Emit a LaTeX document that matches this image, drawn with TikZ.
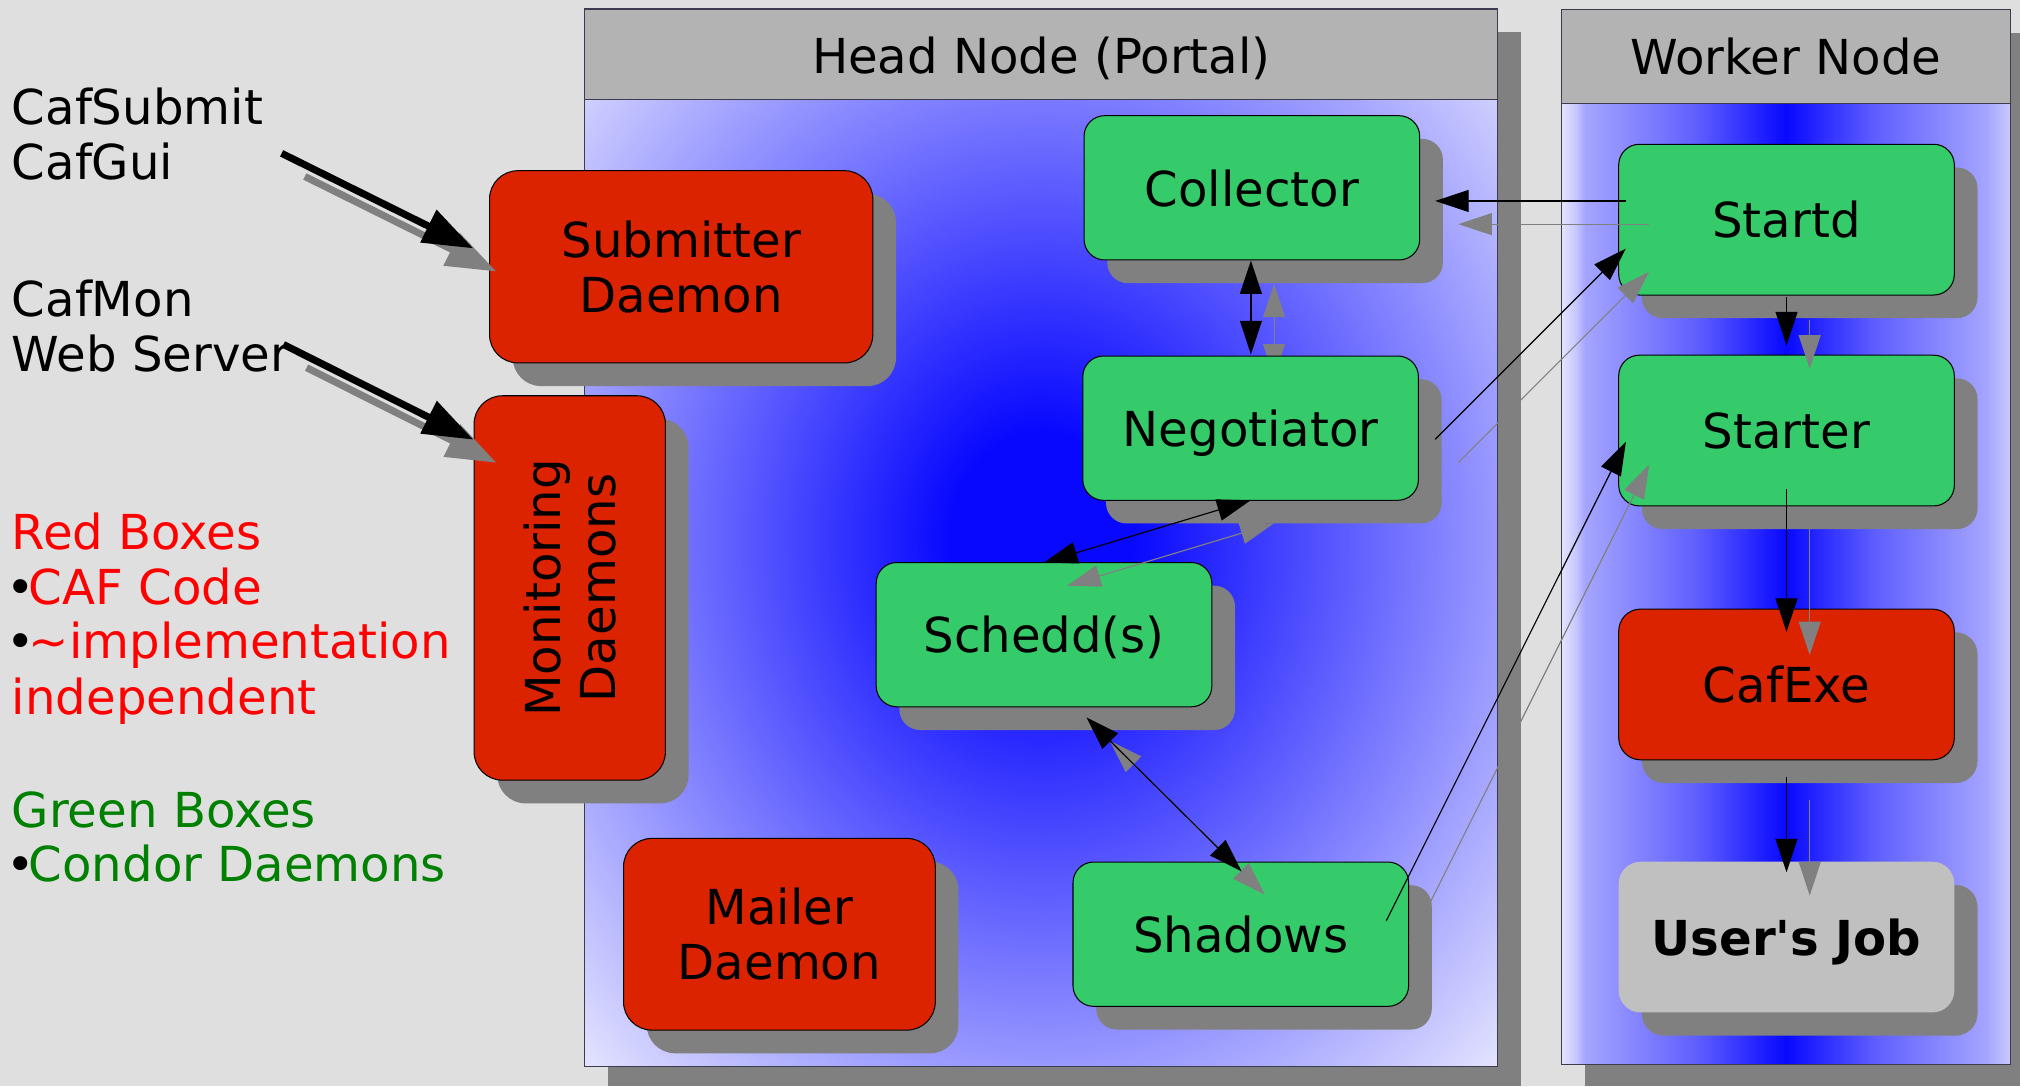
\documentclass[tikz,border=0pt]{standalone}
\usepackage{fontspec}
\setmainfont{DejaVu Sans}[Ligatures=TeXOff]
\usetikzlibrary{arrows.meta,shadows,calc}
\definecolor{bgcol}{RGB}{223,223,223}
\definecolor{hdrgray}{RGB}{179,179,179}
\definecolor{shadowgray}{RGB}{128,128,128}
\definecolor{cafred}{RGB}{220,35,0}
\definecolor{condorgreen}{RGB}{53,203,106}
\definecolor{jobgray}{RGB}{192,192,192}
\definecolor{panelline}{RGB}{60,60,80}
\definecolor{pblue}{RGB}{8,8,255}
\definecolor{ppale}{RGB}{228,228,255}
\definecolor{wedge}{RGB}{200,200,255}
\definecolor{wmid}{RGB}{165,165,255}
\definecolor{wcore}{RGB}{95,95,255}
\definecolor{legendgreen}{RGB}{0,128,0}
\pgfdeclareradialshading{headshade}{\pgfpoint{0bp}{0bp}}{color(0bp)=(pblue); color(5bp)=(pblue); color(35.4bp)=(ppale); color(50bp)=(ppale)}
\pgfdeclarehorizontalshading{workshade}{100bp}{color(0bp)=(ppale); color(25bp)=(ppale); color(26.5bp)=(wedge); color(27.6bp)=(wmid); color(40bp)=(wcore); color(50bp)=(pblue); color(60bp)=(wcore); color(72.4bp)=(wmid); color(75bp)=(wedge); color(100bp)=(wedge)}
\pgfdeclarelayer{bg}
\pgfdeclarelayer{under}
\pgfsetlayers{bg,under,main}
\newcommand{\duoline}[3]{%
  \draw[#1, shadowgray, transform canvas={xshift=18pt,yshift=-18pt}] #2 -- #3;
  \draw[#1] #2 -- #3;}
\begin{document}
\begin{tikzpicture}[x=1pt,y=-1pt,
  font=\fontsize{37.4pt}{42.7pt}\selectfont,
  box/.style={draw=black, line width=0.8pt, rounded corners=#1, inner sep=0pt, outer sep=0pt,
    drop shadow={shadow xshift=18pt, shadow yshift=-18pt, fill=shadowgray, opacity=1}},
  redbox/.style={box=22pt, fill=cafred},
  greenbox/.style={box=16pt, fill=condorgreen, minimum width=260.5pt, minimum height=112pt, text depth=0pt},
  workerbox/.style={minimum width=260.5pt, minimum height=117pt},
  panelbox/.style={draw=panelline, line width=0.9pt, inner sep=0pt, outer sep=0pt},
  panelhead/.style={panelbox, fill=hdrgray},
  legendtext/.style={anchor=base west, inner sep=0pt},
  onehead/.style={line width=0.9pt, -{Triangle[length=26pt,width=17pt]}},
  dualhead/.style={line width=0.9pt, {Triangle[length=26pt,width=17pt]}-{Triangle[length=26pt,width=17pt]}},
  bigarrow/.style={line width=5.5pt, -{Triangle[length=39pt,width=27pt]}}
]
\useasboundingbox (0,0) rectangle (1568,843);

\begin{pgfonlayer}{bg}
\fill[bgcol] (0,0) rectangle (1568,843);
\fill[shadowgray] (472,25) rectangle (1180.5,843);
\fill[shadowgray] (1230.3,25.5) rectangle (1568,843);
\node[panelbox, shade, shading=headshade, minimum width=708.5pt, minimum height=821pt] (headpanel) at (808.25,417.5) {};
\node[panelhead, minimum width=708.5pt, minimum height=70pt] (headhdr) at (808.25,42) {};
\node[anchor=base, inner sep=0pt] (headtitle) at (808.25,57.3) {Head Node (Portal)};
\node[panelbox, shade, shading=workshade, minimum width=348pt, minimum height=818.5pt] (workpanel) at (1386.3,416.75) {};
\node[panelhead, minimum width=348pt, minimum height=73pt] (workhdr) at (1386.3,44) {};
\node[anchor=base, inner sep=0pt] (worktitle) at (1386.3,58.2) {Worker Node};
\end{pgfonlayer}

% legend texts
\node[legendtext] (t1) at (9,96.8) {CafSubmit};
\node[legendtext] (t2) at (9,139) {CafGui};
\node[legendtext] (t3) at (9,245.5) {CafMon};
\node[legendtext] (t4) at (9,288.1) {Web Server};
\node[legendtext, text=red] (t5) at (9,426.8) {Red Boxes};
\node[legendtext] (t6) at (5,469.3) {•\kern-4.9pt\textcolor{red}{CAF Code}};
\node[legendtext] (t7) at (5,511.5) {•\kern-4.9pt\textcolor{red}{\textasciitilde implementation}};
\node[legendtext, text=red] (t8) at (9,555) {independent};
\node[legendtext, text=legendgreen] (t9) at (9,642.4) {Green Boxes};
\node[legendtext] (t10) at (5,684.3) {•\kern-4.9pt\textcolor{legendgreen}{Condor Daemons}};

% boxes
\node[redbox, minimum width=297.5pt, minimum height=149.2pt, align=center] (submitter) at (528.75,207.1) {Submitter\\Daemon};
\node[redbox, minimum width=148.5pt, minimum height=298.4pt] (monitor) at (442.25,456.4) {};
\node[rotate=90, align=center, inner sep=0pt] (monitortext) at (monitor.center) {Monitoring\\Daemons};
\node[redbox, minimum width=242pt, minimum height=148.8pt, align=center] (mailer) at (605,725.2) {Mailer\\Daemon};
\node[greenbox] (collector) at (971.75,145.8) {Collector};
\node[greenbox] (negotiator) at (970.75,332.35) {Negotiator};
\node[greenbox] (schedd) at (810.4,492.65) {Schedd(s)};
\node[greenbox] (shadows) at (963.15,725.15) {Shadows};
\node[greenbox, workerbox] (startd) at (1386.75,170.5) {Startd};
\node[greenbox, workerbox] (starter) at (1386.75,334.2) {Starter};
\node[redbox, workerbox, rounded corners=17pt, text depth=0pt] (cafexe) at (1386.75,531.3) {CafExe};
\node[box=17pt, fill=jobgray, draw=none, workerbox, text depth=0pt] (userjob) at (1386.75,727.4) {\bfseries User's Job};

% free ends of the client arrows
\coordinate (subsrc) at (218.6,119);
\coordinate (monsrc) at (220,267.4);

% shadow of collector-negotiator link lies under the negotiator box
\begin{pgfonlayer}{under}
\draw[dualhead, shadowgray, transform canvas={xshift=18pt,yshift=-18pt}] ($(collector.south)+(-0.75,0.4)$) -- ($(negotiator.north)+(0.25,-1.3)$);
\end{pgfonlayer}
\draw[dualhead] ($(collector.south)+(-0.75,0.4)$) -- ($(negotiator.north)+(0.25,-1.3)$);

\duoline{bigarrow}{(subsrc)}{($(submitter.west)+(-12.6,-14.3)$)}
\duoline{bigarrow}{(monsrc)}{($(monitor.north west)+(-0.5,34.1)$)}
\duoline{onehead}{($(startd.west)+(5.5,-14.5)$)}{($(collector.east)+(12,10.2)$)}
\duoline{onehead}{($(negotiator.east)+(13,8.65)$)}{($(startd.west)+(5.5,22.5)$)}
\duoline{dualhead}{(schedd.north)}{(negotiator.south)}
\duoline{dualhead}{($(schedd.south)+(33,8.3)$)}{($(shadows.north)+(0.6,7.2)$)}
\duoline{onehead}{($(shadows.east)+(-17.3,-10.5)$)}{($(starter.west)+(5.6,8.6)$)}
\duoline{onehead}{($(startd.south)+(0,1.3)$)}{($(starter.north)+(0,-7.6)$)}
\duoline{onehead}{($(starter.south)+(0,-13)$)}{($(cafexe.north)+(0,17.7)$)}
\duoline{onehead}{($(cafexe.south)+(0,13)$)}{($(userjob.north)+(0,8.2)$)}
\end{tikzpicture}
\end{document}
